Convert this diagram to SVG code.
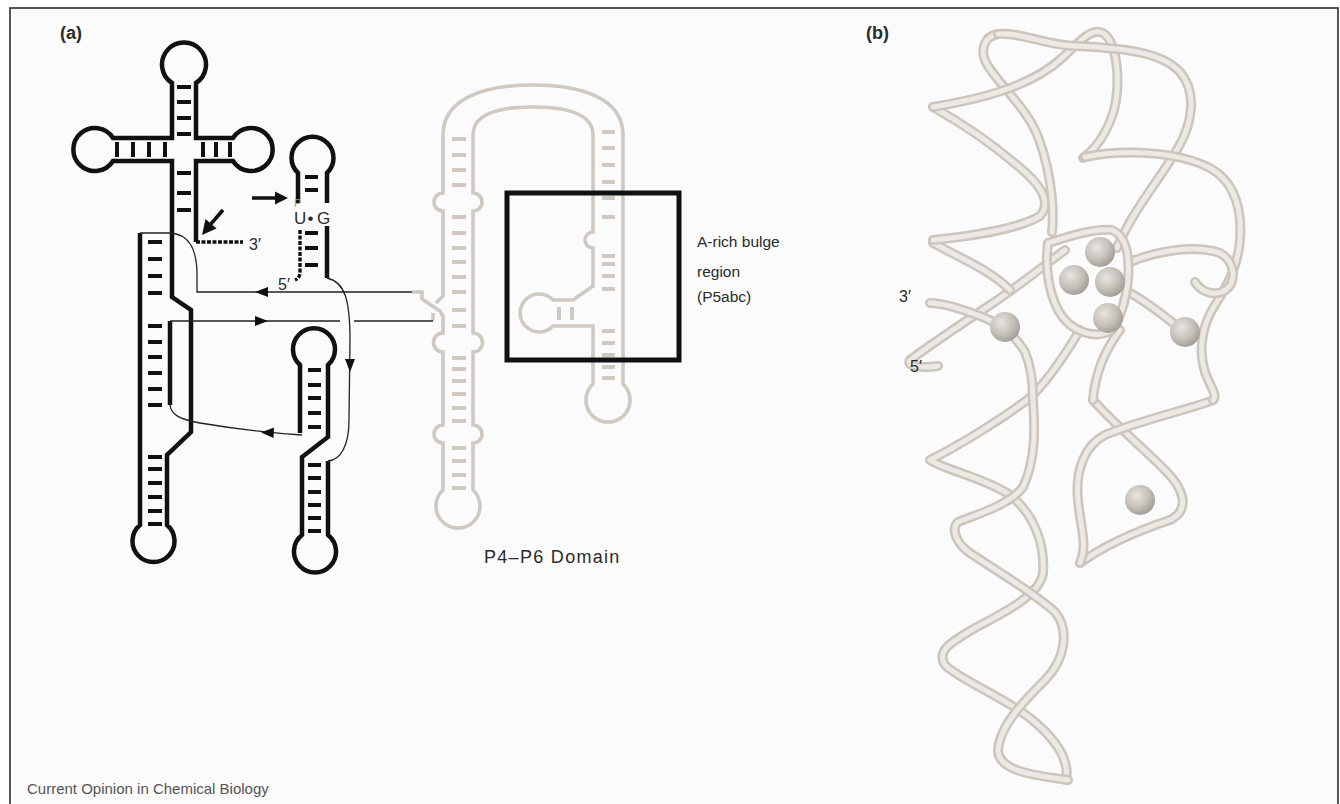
<svg xmlns="http://www.w3.org/2000/svg" width="1340" height="804" viewBox="0 0 1340 804">
<style>
.bg{fill:#fbfbfb;stroke:#2e2e2e;stroke-width:1.6}
.s{fill:none;stroke:#111;stroke-width:4.5;stroke-linejoin:miter}
.bp{fill:none;stroke:#111;stroke-width:4}
.ds{fill:none;stroke:#111;stroke-width:3.4;stroke-dasharray:4 1.5}
.c{fill:none;stroke:#222;stroke-width:1.3}
.ah{fill:#111}
.g{fill:none;stroke:#cfc9c2;stroke-width:3.6}
.gb{fill:none;stroke:#cfc9c2;stroke-width:4}
.t{font-family:"Liberation Sans",Arial,sans-serif;fill:#2a2a2a}
.o{fill:none;stroke:#ccc5be;stroke-width:10;stroke-linecap:round;stroke-linejoin:round}
.h{fill:none;stroke:#ece8e4;stroke-width:5;stroke-linecap:round;stroke-linejoin:round}
</style>
<defs>
<radialGradient id="ball" cx="0.38" cy="0.35" r="0.7">
<stop offset="0" stop-color="#e8e4e0"/>
<stop offset="0.6" stop-color="#c4beb8"/>
<stop offset="1" stop-color="#9f9993"/>
</radialGradient>
<!-- ribbon backbone traces -->
<path id="r1" d="M1052,232 C1055,200 1048,160 1036,132 C1024,106 1000,85 988,66 C978,50 985,36 998,34"/>
<path id="r2" d="M998,34 C1020,32 1045,45 1075,46 C1115,48 1160,50 1180,72 C1197,92 1193,122 1178,148 C1162,175 1142,200 1130,222 C1124,233 1120,240 1117,248"/>
<path id="r3" d="M933,107 C975,100 1030,88 1062,58 C1078,44 1088,30 1100,32 C1113,35 1119,62 1117,92 C1115,120 1100,146 1083,158"/>
<path id="r4" d="M933,107 C965,125 1000,150 1025,172 C1045,190 1050,205 1040,216 C1020,228 975,236 933,240"/>
<path id="r5" d="M933,243 C960,258 990,270 1010,290"/>
<path id="r6" d="M930,303 C945,303 965,310 985,318 C1000,324 1015,335 1025,352 C1032,368 1033,385 1033,400 C1035,427 1036,460 1023,487 C1010,505 975,515 958,522 C950,530 958,545 970,553 C995,570 1030,590 1055,612 C1070,630 1065,660 1045,680 C1025,700 1000,725 998,750 C998,770 1030,775 1068,780"/>
<path id="r7" d="M1080,330 C1065,355 1045,385 1027,400 C1000,420 960,445 930,460 C945,470 985,478 1010,495 C1035,515 1045,545 1043,573 C1040,595 1005,612 975,628 C955,640 935,650 945,665 C960,680 1000,695 1030,718 C1055,738 1070,760 1066,780"/>
<path id="r8" d="M938,366 C925,368 905,367 910,360 C930,345 960,325 990,305 C1020,285 1045,265 1065,250"/>
<path id="r9" d="M1085,157 C1120,150 1175,150 1210,168 C1235,182 1242,210 1240,240 C1238,265 1228,285 1215,305 C1202,325 1198,350 1205,372 C1210,386 1218,396 1213,400"/>
<path id="r10" d="M1048,243 C1070,236 1095,228 1112,230 C1126,236 1130,255 1128,280 C1126,300 1120,318 1112,330 C1095,340 1070,332 1058,310 C1048,290 1045,265 1048,243"/>
<path id="r11" d="M1130,262 C1160,250 1195,245 1220,253 C1236,262 1238,285 1222,292 C1210,296 1200,290 1195,282"/>
<path id="r12" d="M1213,400 C1195,408 1140,420 1105,435 C1085,445 1075,470 1078,500 C1080,525 1088,545 1080,563"/>
<path id="r15" d="M1128,292 C1148,302 1166,318 1185,332"/>
<path id="r13" d="M1093,400 C1110,420 1140,445 1165,470 C1185,490 1190,510 1170,520 C1140,530 1105,545 1080,563"/>
<path id="r14" d="M1120,330 C1105,350 1095,375 1093,400"/>
</defs>

<!-- frame -->
<rect class="bg" x="10" y="8" width="1328" height="810"/>

<text class="t" x="60" y="39" font-size="18" font-weight="bold">(a)</text>
<text class="t" x="866" y="39" font-size="18" font-weight="bold">(b)</text>

<!-- P4-P6 domain outline -->
<g id="p4p6">
<path class="g" d="M443,290 L443,211 A9 9 0 0 1 443,193 L443,135 C443,98 485,85 533,85 C581,85 623,98 623,135 L623,384 A22 22 0 1 1 593,384 L593,326 L553,326 A19 19 0 1 1 553,300 L573,300 L593,286 L593,248 A8 8 0 0 1 593,232 L593,135 C593,114 568,107 533,107 C498,107 473,114 473,135 L473,193 A9 9 0 0 1 473,211 L473,333 A9.5 9.5 0 0 1 473,352 L473,425 A9 9 0 0 1 473,443 L473,490 A22 22 0 1 1 443,490 L443,443 A9 9 0 0 1 443,425 L443,352 A9.5 9.5 0 0 1 443,333 L443,316 L440,311 L422,299 L422,292 L412,292"/>
<path class="g" d="M443,290 L443,296 L436,303"/>
<path class="g" d="M433,321 L433,313"/>
<path class="gb" d="M452,139h14M452,155h14M452,170h14M452,185h14M452,217h14M452,233h14M452,248h14M452,262h14M452,277h14M452,292h14M452,310h14M452,326h14M452,358h14M452,369h14M452,381h14M452,394h14M452,408h14M452,421h14M452,448h14M452,461h14M452,475h14M452,488h14"/>
<path class="gb" d="M602,132h13M602,148h13M602,165h13M602,182h13M602,198h13M602,217h13M602,256h13M602,264h13M602,276h13M602,289h13M602,331h13M602,343h13M602,355h13M602,367h13M602,378h13"/>
<path class="gb" d="M559,307v13M572,307v13"/>
</g>

<!-- left secondary structure -->
<g id="core">
<path class="s" d="M140,233 L140,525 A21 21 0 1 0 167,525 L167,455 L191,432 L191,310 L172,297 L172,161 L113,161 A21.5 21.5 0 1 1 113,138 L172,138 L172,83 A22 22 0 1 1 196,83 L196,138 L233,138 A21.5 21.5 0 1 1 233,161 L196,161 L196,242"/>
<path class="ds" d="M196,242 L243,242"/>
<path class="s" d="M170,321 L170,405"/>
<path class="bp" d="M177,87h14M177,102h14M177,118h14M177,134h14M177,173h14M177,193h14M177,210h14"/>
<path class="bp" d="M117,142v15M133,142v15M149,142v15M165,142v15M203,142v15M216,142v15M230,142v15"/>
<path class="bp" d="M148,242h14M148,259h14M148,276h14M148,293h14M148,326h14M148,342h14M148,357h14M148,373h14M148,389h14M148,405h14M148,457h14M148,469h14M148,483h14M148,497h14M148,511h14M148,524h14"/>
</g>

<g id="hairpin-ug">
<path class="s" d="M298,203 L298,173 A21 21 0 1 1 327,173 L327,203"/>
<path class="s" d="M327,226 L327,278"/>
<path class="ds" d="M300,230 L300,272 Q300,278 295,280"/>
<path class="bp" d="M305,177h13M305,190h13M305,233h13M305,248h13M305,265h13"/>
<text class="t" x="294" y="207" font-size="11" style="fill:#9a9a9a">P</text>
<text class="t" font-size="17" y="224"><tspan x="294">U</tspan><tspan x="307.5">•</tspan><tspan x="317">G</tspan></text>
<text class="t" x="278" y="290" font-size="16">5′</text>
</g>

<g id="hairpin-low">
<path class="s" d="M300,433 L300,365 A21 21 0 1 1 328,365 L328,437 L302,457 L302,535 A21 21 0 1 0 328,535 L328,461"/>
<path class="bp" d="M308,370h13M308,385h13M308,398h13M308,413h13M308,427h13M308,465h13M308,478h13M308,492h13M308,505h13M308,518h13M308,531h13"/>
</g>

<text class="t" x="249" y="250" font-size="16">3′</text>

<!-- cleavage-site arrows -->
<g id="arrows">
<path d="M252,198 L277,198" stroke="#111" stroke-width="3.5"/>
<polygon class="ah" points="288,198 275,191.5 275,204.5"/>
<path d="M223,210 L210,225" stroke="#111" stroke-width="3.5"/>
<polygon class="ah" points="202,235 205.5,219 216.5,228.5"/>
</g>

<!-- strand connectors -->
<g id="connectors">
<path class="c" d="M140,233 L168,233 C190,233 197,250 197,275 L197,292 L412,292"/>
<path class="c" d="M170,321 L340,321 M354,321 L433,321"/>
<path class="c" d="M170,405 C171,414 178,419 200,423 C230,428 270,433 302,435"/>
<path class="c" d="M327,278 C345,282 350,300 350,340 L349,420 C349,445 341,460 328,461"/>
<polygon class="ah" points="255,292 268,287 268,297"/>
<polygon class="ah" points="268,321 255,316 255,326"/>
<polygon class="ah" points="261,432.5 274,427.5 273.5,438"/>
<polygon class="ah" points="350,372 345,359 355,359"/>
</g>

<rect x="507" y="193" width="172" height="167" fill="none" stroke="#111" stroke-width="5"/>

<text class="t" font-size="15.5"><tspan x="697" y="247">A-rich bulge</tspan><tspan x="697" y="277">region</tspan><tspan x="697" y="302">(P5abc)</tspan></text>
<text class="t" x="484" y="563" font-size="18" letter-spacing="1.3">P4–P6 Domain</text>

<!-- tertiary fold -->
<g id="fold">
<use href="#r8" class="o"/><use href="#r8" class="h"/>
<use href="#r7" class="o"/><use href="#r7" class="h"/>
<use href="#r6" class="o"/><use href="#r6" class="h"/>
<use href="#r5" class="o"/><use href="#r5" class="h"/>
<use href="#r4" class="o"/><use href="#r4" class="h"/>
<use href="#r1" class="o"/><use href="#r1" class="h"/>
<use href="#r3" class="o"/><use href="#r3" class="h"/>
<use href="#r2" class="o"/><use href="#r2" class="h"/>
<use href="#r13" class="o"/><use href="#r13" class="h"/>
<use href="#r12" class="o"/><use href="#r12" class="h"/>
<use href="#r14" class="o"/><use href="#r14" class="h"/>
<use href="#r9" class="o"/><use href="#r9" class="h"/>
<use href="#r15" class="o"/><use href="#r15" class="h"/>
<use href="#r11" class="o"/><use href="#r11" class="h"/>
<use href="#r10" class="o"/><use href="#r10" class="h"/>
<circle cx="1100" cy="252" r="15" fill="url(#ball)"/>
<circle cx="1074" cy="280" r="15" fill="url(#ball)"/>
<circle cx="1110" cy="282" r="15" fill="url(#ball)"/>
<circle cx="1108" cy="318" r="15" fill="url(#ball)"/>
<circle cx="1005" cy="327" r="15" fill="url(#ball)"/>
<circle cx="1185" cy="332" r="15" fill="url(#ball)"/>
<circle cx="1140" cy="500" r="15" fill="url(#ball)"/>
<text class="t" x="899" y="302" font-size="16">3′</text>
<text class="t" x="910" y="372" font-size="16">5′</text>
</g>

<text class="t" x="27" y="794" font-size="15" style="fill:#555">Current Opinion in Chemical Biology</text>
</svg>
